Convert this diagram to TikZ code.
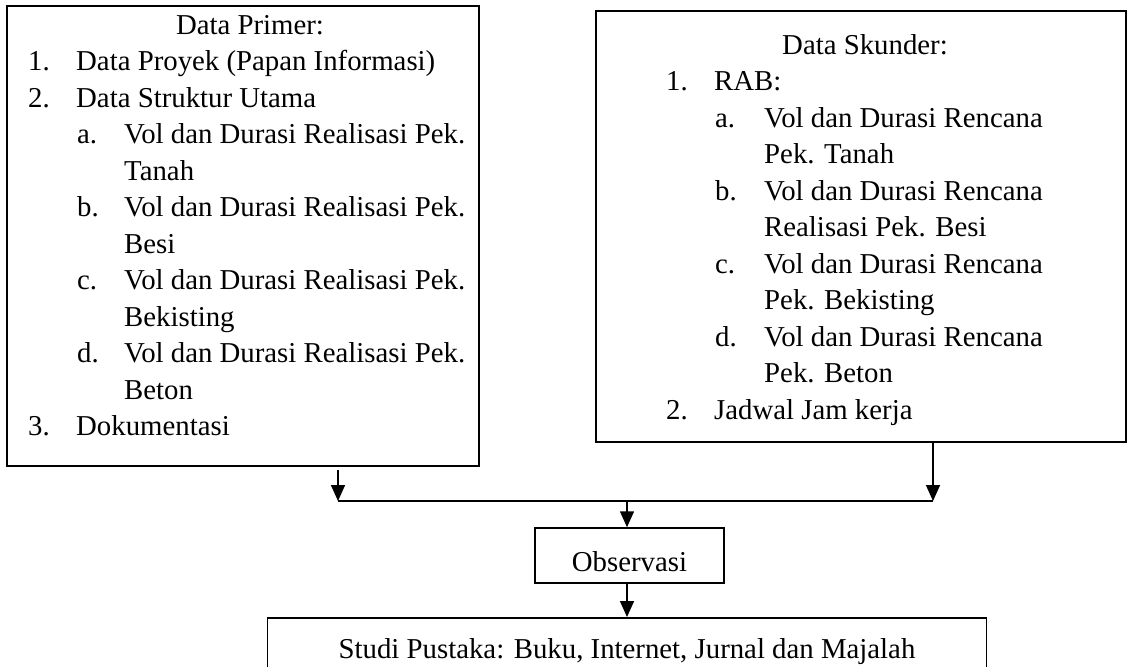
\documentclass[tikz,border=0pt]{standalone}
\usepackage{fontspec}
\setmainfont{Liberation Serif}
\usetikzlibrary{arrows.meta}
\begin{document}
\begin{tikzpicture}[x=1pt,y=1pt,
  box/.style={draw, line width=1.5pt, inner sep=0pt},
  txt/.style={anchor=base west, inner sep=0pt, font=\fontsize{28.8}{34}\selectfont},
  ctr/.style={anchor=base, inner sep=0pt, font=\fontsize{28.8}{34}\selectfont},
  ln/.style={line width=1.5pt},
  arr/.style={line width=1.5pt, -{Triangle[length=16pt,width=14pt]}}]
\useasboundingbox (0,0) rectangle (1128,-667);
% boxes
\node[box, anchor=north west, minimum width=472pt, minimum height=460pt] (prim) at (6,-5) {};
\node[box, anchor=north west, minimum width=530pt, minimum height=431pt] (sek) at (595,-10) {};
\node[box, minimum width=189pt, minimum height=55pt] (obs) at (629.5,-555.5) {};
\node[box, anchor=north, minimum width=719pt, minimum height=80pt] (stu) at (627,-617) {};
% left text
\node[ctr] (p0) at (250,-34) {Data Primer:};
\node[txt] (p1n) at (28,-70.5) {1.};
\node[txt] (p1) at (76,-70.5) {Data Proyek (Papan Informasi)};
\node[txt] (p2n) at (28,-107) {2.};
\node[txt] (p2) at (76,-107) {Data Struktur Utama};
\node[txt] (p3n) at (77,-143.5) {a.};
\node[txt] (p3) at (124,-143.5) {Vol dan Durasi Realisasi Pek.};
\node[txt] (p4) at (124,-180) {Tanah};
\node[txt] (p5n) at (77,-216.5) {b.};
\node[txt] (p5) at (124,-216.5) {Vol dan Durasi Realisasi Pek.};
\node[txt] (p6) at (124,-253) {Besi};
\node[txt] (p7n) at (77,-289.5) {c.};
\node[txt] (p7) at (124,-289.5) {Vol dan Durasi Realisasi Pek.};
\node[txt] (p8) at (124,-326) {Bekisting};
\node[txt] (p9n) at (77,-362.5) {d.};
\node[txt] (p9) at (124,-362.5) {Vol dan Durasi Realisasi Pek.};
\node[txt] (p10) at (124,-399) {Beton};
\node[txt] (p11n) at (28,-435.5) {3.};
\node[txt] (p11) at (76,-435.5) {Dokumentasi};
% right text
\node[ctr] (s0) at (865,-54) {Data Skunder:};
\node[txt] (s1n) at (666,-90.5) {1.};
\node[txt] (s1) at (714,-90.5) {RAB:};
\node[txt] (s2n) at (715,-127) {a.};
\node[txt] (s2) at (764,-127) {Vol dan Durasi Rencana};
\node[txt] (s3) at (764,-163.5) {Pek. Tanah};
\node[txt] (s4n) at (715,-200) {b.};
\node[txt] (s4) at (764,-200) {Vol dan Durasi Rencana};
\node[txt] (s5) at (764,-236.5) {Realisasi Pek. Besi};
\node[txt] (s6n) at (715,-273) {c.};
\node[txt] (s6) at (764,-273) {Vol dan Durasi Rencana};
\node[txt] (s7) at (764,-309.5) {Pek. Bekisting};
\node[txt] (s8n) at (715,-346) {d.};
\node[txt] (s8) at (764,-346) {Vol dan Durasi Rencana};
\node[txt] (s9) at (764,-382.5) {Pek. Beton};
\node[txt] (s10n) at (666,-419) {2.};
\node[txt] (s10) at (714,-419) {Jadwal Jam kerja};
% small boxes text
\node[ctr] (obst) at (629.5,-571) {Observasi};
\node[ctr] (stut) at (627,-658) {Studi Pustaka: Buku, Internet, Jurnal dan Majalah};
% connectors
\coordinate (la) at (338,-470);
\coordinate (jl) at (338,-501);
\coordinate (jr) at (933,-501);
\coordinate (jm) at (627,-501);
\draw[arr] (la) -- (jl);
\draw[arr] (sek.south -| jr) -- (jr);
\draw[ln] (jl) -- (jr);
\draw[arr] (jm) -- (obs.north -| jm);
\draw[arr] (obs.south -| jm) -- (stu.north -| jm);
\end{tikzpicture}
\end{document}
